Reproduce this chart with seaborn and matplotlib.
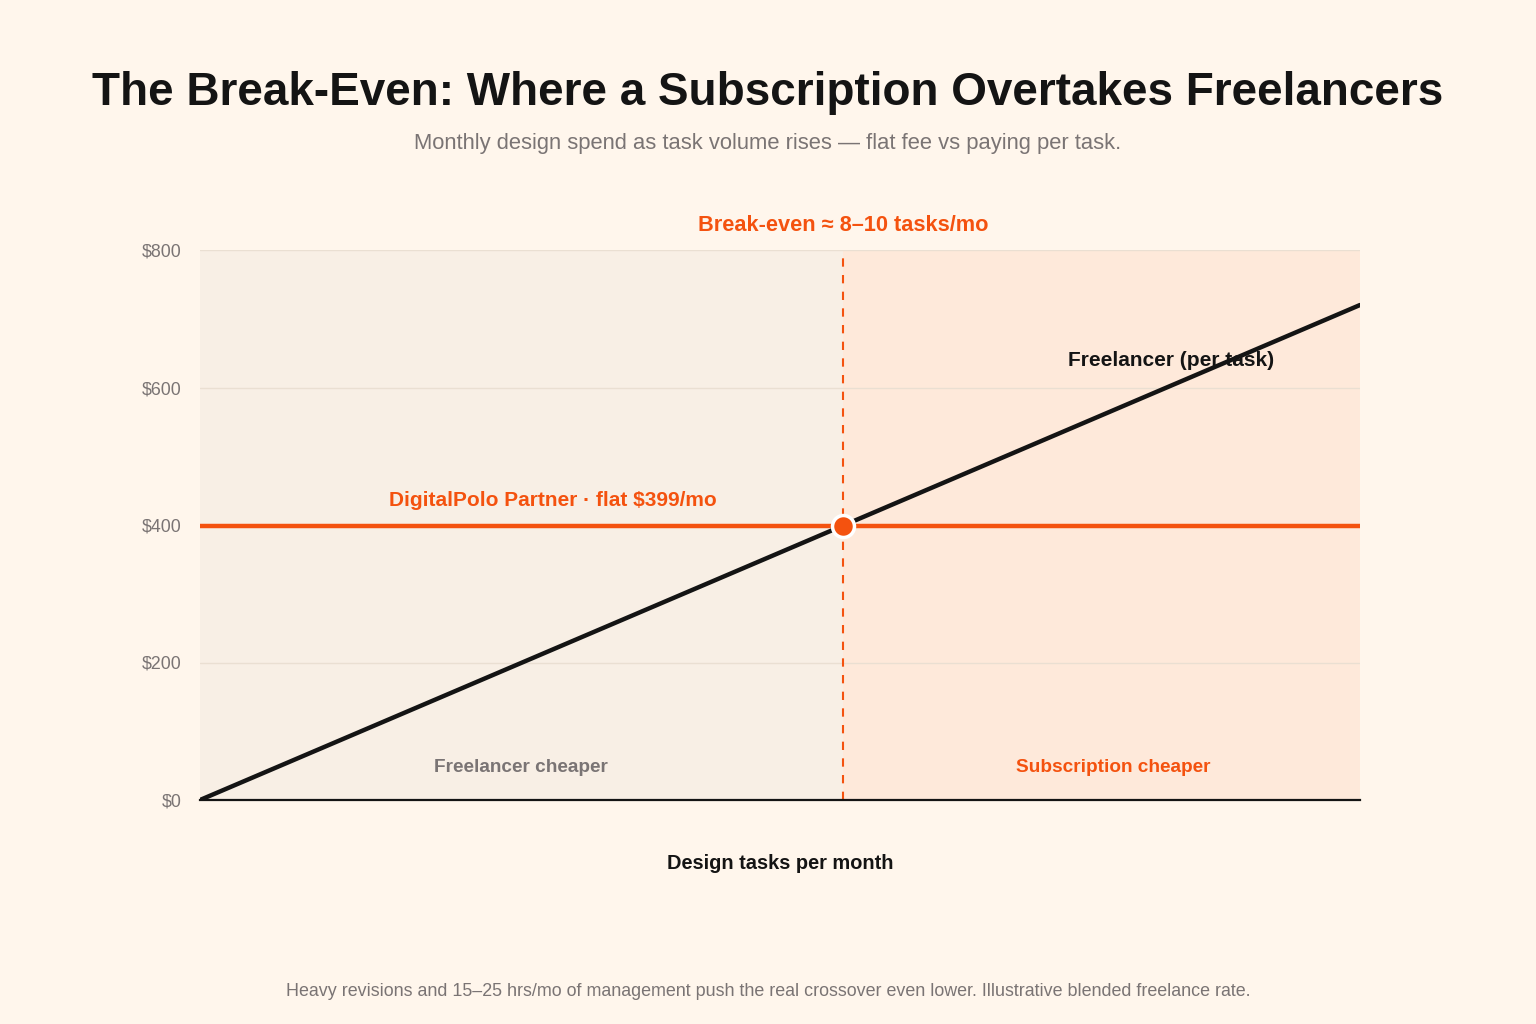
import numpy as np
import pandas as pd
import seaborn as sns
import matplotlib.pyplot as plt

# data
tasks = [0, 16]
freelancer_cost = [0, 720]
subscription_fee = 399
freelancer_rate = 45
y_ticks = [0, 200, 400, 600, 800]
y_tick_labels = ['$0', '$200', '$400', '$600', '$800']

BG = '#FFF6EC'
ORANGE = '#F4520F'
DARK = '#141414'
GREY = '#7A7474'

sns.set_theme(style='white')
plt.rcParams['font.family'] = ['Liberation Sans', 'DejaVu Sans']

df = pd.DataFrame({
    'tasks': tasks + tasks,
    'cost': freelancer_cost + [subscription_fee, subscription_fee],
    'plan': ['Freelancer', 'Freelancer', 'Subscription', 'Subscription'],
})
breakeven = subscription_fee / freelancer_rate

fig = plt.figure(figsize=(15.36, 10.24), dpi=100, facecolor=BG)
ax = fig.add_axes([200 / 1536, 1 - 800 / 1024, 1160 / 1536, 550 / 1024])
ax.set_facecolor(BG)

ax.axvspan(tasks[0], breakeven, color='#F8EFE5', zorder=0, lw=0)
ax.axvspan(breakeven, tasks[1], color='#FEE9DA', zorder=0, lw=0)
for y in y_ticks[1:]:
    ax.axhline(y, color='#EADFD2', lw=1, zorder=1)

sns.lineplot(data=df, x='tasks', y='cost', hue='plan',
             palette={'Freelancer': DARK, 'Subscription': ORANGE},
             linewidth=3.2, legend=False, ax=ax, zorder=3)
ax.lines[-1].set_zorder(2.5)

ax.axvline(breakeven, color=ORANGE, lw=1.5, ls=(0, (4, 4)), zorder=2)
ax.scatter([breakeven], [subscription_fee], s=250, color=ORANGE,
           edgecolor='white', linewidth=2.5, zorder=5)

ax.set_xlim(tasks[0], tasks[1])
ax.set_ylim(0, 800)
ax.set_xticks([])
ax.set_yticks(y_ticks)
ax.set_yticklabels(y_tick_labels, color=GREY, fontsize=12.8)
ax.tick_params(axis='y', length=0, pad=13)
for s in ['top', 'right', 'left']:
    ax.spines[s].set_visible(False)
ax.spines['bottom'].set_color(DARK)
ax.spines['bottom'].set_linewidth(1.6)
ax.set_xlabel('Design tasks per month', fontsize=14.4, fontweight='bold',
              color=DARK, labelpad=39)
ax.set_ylabel('')

ax.text(4.87, 436, 'DigitalPolo Partner · flat $399/mo', color=ORANGE,
        fontsize=15, fontweight='bold', ha='center', va='center')
ax.text(13.4, 640, 'Freelancer (per task)', color=DARK,
        fontsize=15, fontweight='bold', ha='center', va='center')
ax.text(breakeven / 2, 47, 'Freelancer cheaper', color=GREY,
        fontsize=13.7, fontweight='bold', ha='center', va='center')
ax.text(12.6, 47, 'Subscription cheaper', color=ORANGE,
        fontsize=13.7, fontweight='bold', ha='center', va='center')
ax.text(breakeven, 835, 'Break-even ≈ 8–10 tasks/mo', color=ORANGE,
        fontsize=15.7, fontweight='bold', ha='center', va='center', clip_on=False)

fig.text(0.5, 1 - 93 / 1024, 'The Break-Even: Where a Subscription Overtakes Freelancers',
         ha='center', va='center', fontsize=33, fontweight='bold', color=DARK)
fig.text(0.5, 1 - 144 / 1024,
         'Monthly design spend as task volume rises — flat fee vs paying per task.',
         ha='center', va='center', fontsize=15.8, color=GREY)
fig.text(0.5, 1 - 992 / 1024,
         'Heavy revisions and 15–25 hrs/mo of management push the real crossover even lower. Illustrative blended freelance rate.',
         ha='center', va='center', fontsize=12.9, color=GREY)

fig.savefig('out.png', dpi=100, facecolor=BG)
